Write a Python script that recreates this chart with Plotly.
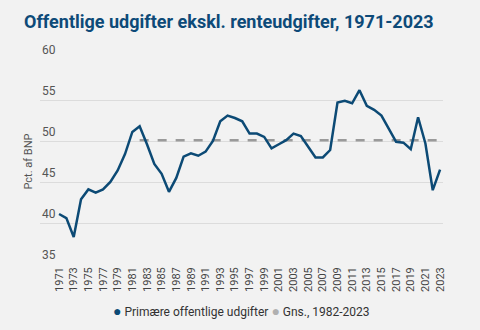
import plotly.graph_objects as go

# Primary public expenditure (excl. interest), pct. of GDP
years = list(range(1971, 2024))
udgifter = [
    41.1, 40.6, 38.3, 42.9, 44.1, 43.7, 44.1, 45.0, 46.4, 48.4,  # 1971-1980
    51.1, 51.8, 49.6, 47.2, 46.0, 43.8, 45.5, 48.1, 48.5, 48.2,  # 1981-1990
    48.7, 50.0, 52.4, 53.1, 52.8, 52.4, 50.9, 50.9, 50.5, 49.1,  # 1991-2000
    49.6, 50.1, 50.9, 50.6, 49.3, 48.0, 48.0, 48.9, 54.7, 54.9,  # 2001-2010
    54.6, 56.2, 54.3, 53.8, 53.1, 51.5, 49.9, 49.8, 49.0, 52.9,  # 2011-2020
    49.7, 44.0, 46.5,                                            # 2021-2023
]
gns_years = [1982, 2023]
gns_value = 50.1

tick_years = list(range(1971, 2024, 2))
y_ticks = [35, 40, 45, 50, 55, 60]

series_name = "Primære offentlige udgifter"
gns_name = "Gns., 1982-2023"

blue = "#0c4a75"
grey = "#9a9a9a"
bg = "#f2f2f2"

fig = go.Figure()

fig.add_trace(go.Scatter(
    x=gns_years, y=[gns_value] * len(gns_years), mode="lines", name=gns_name,
    line=dict(color=grey, width=2.5, dash="dash"),
    showlegend=False, hoverinfo="skip",
))
fig.add_trace(go.Scatter(
    x=years, y=udgifter, mode="lines", name=series_name,
    line=dict(color=blue, width=2.5),
    showlegend=False,
))

# y tick labels sit on top of their gridlines, at the left edge of the plot
for v in y_ticks:
    fig.add_annotation(
        x=0, xref="paper", y=v, yref="y", text=str(v), showarrow=False,
        xanchor="left", yanchor="bottom",
        font=dict(size=12, color="#555"),
    )

# compact legend line with coloured dots, below the year labels
fig.add_annotation(
    x=0.5, xref="paper", y=-0.229, yref="paper",
    text=(f"<span style='color:{blue};font-size:14px'>●</span> {series_name} "
          f"<span style='color:#b0b0b0;font-size:14px'>●</span> {gns_name}"),
    showarrow=False, xanchor="center", yanchor="middle",
    font=dict(size=12, color="#333"),
)

fig.update_layout(
    width=480, height=330,
    margin=dict(l=40, r=37, t=59, b=66, autoexpand=False),
    paper_bgcolor=bg, plot_bgcolor=bg,
    font=dict(family="Roboto, Arial, sans-serif", color="#444"),
    showlegend=False,
    title=dict(
        text="<b>Offentlige udgifter ekskl. renteudgifter, 1971-2023</b>",
        x=24 / 480, xanchor="left", y=1 - 22 / 330, yanchor="middle",
        font=dict(size=18, color="#0d4a78", family="Roboto, Arial, sans-serif"),
    ),
    xaxis=dict(
        range=[1968.4, 2023.4], tickvals=tick_years,
        ticktext=[str(y) for y in tick_years], tickangle=-90,
        tickfont=dict(size=11, color="#444"),
        showgrid=False, zeroline=False, showline=False, ticks="",
        automargin=False,
    ),
    yaxis=dict(
        range=[35, 60], tickvals=y_ticks, showticklabels=False,
        showgrid=True, gridcolor="#dcdcdc", gridwidth=1,
        zeroline=False, showline=False, ticks="", automargin=False,
        title=dict(text="Pct. af BNP", font=dict(size=11, color="#555"), standoff=4),
    ),
)

fig.write_html("out.html")
